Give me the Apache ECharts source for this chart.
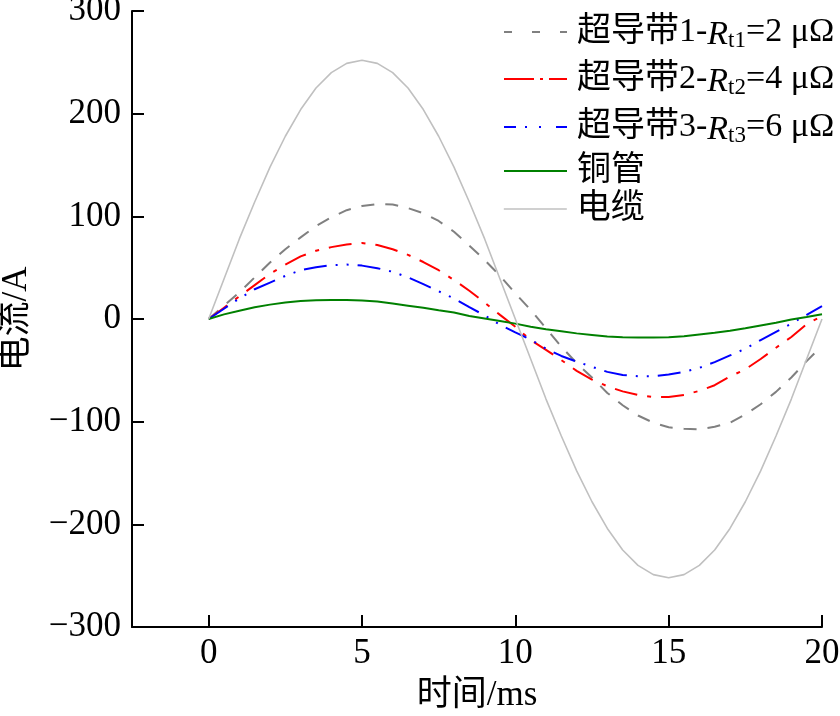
<!DOCTYPE html>
<html>
<head>
<meta charset="utf-8">
<script src="https://cdn.jsdelivr.net/npm/echarts@6/dist/echarts.min.js"></script>
<style>html,body{margin:0;padding:0;background:#fff}#c{width:840px;height:716px}</style>
</head>
<body>
<div id="c"></div>
<script>
const timeMs = [0,0.5,1,1.5,2,2.5,3,3.5,4,4.5,5,5.5,6,6.5,7,7.5,8,8.5,9,9.5,10,10.5,11,11.5,12,12.5,13,13.5,14,14.5,15,15.5,16,16.5,17,17.5,18,18.5,19,19.5,20];
const tape1 = [0,13,26,40.5,55,68,79.5,90.5,99,106,110,112,111.5,108,103,95.5,85,71.5,57.5,42,25,8.8,-9,-27,-43,-57,-72,-84,-94,-101,-105.5,-107,-107.5,-105,-101,-93,-83,-71,-57,-41,-26];
const tape2 = [0,11,22,33,44,53,61,66.5,70,72.5,74,72,68,62.5,55.5,47.5,38,27.5,16,4,-7.5,-20.5,-30,-40,-50.5,-59,-65.5,-70.5,-74,-76,-76,-74,-70,-64.5,-56,-49,-39,-28,-17.5,-5,3];
const tape3 = [0,10,20,29,35.5,42,47.5,50.5,52.5,53,52,49.5,46,40.5,34,27,20,11.5,3.5,-5.5,-13,-20,-29,-36,-41.5,-46.6,-51.5,-54.5,-55.7,-55.7,-54,-51.5,-47.6,-42,-35.5,-29,-20.5,-12.5,-4.5,4,12.5];
const copper = [0,4.5,8,11.5,14,16,17.5,18.3,18.5,18.5,18,17,15,13,11,8.5,6.3,3,0.5,-2,-4.5,-7.5,-10,-12,-14,-15.5,-17,-17.8,-18,-18,-17.8,-16.8,-15,-13.5,-11.5,-9,-6.3,-3.7,-0.5,2,4.6];
const cable = [0,39,78,114,148,178,204,225,240,249,252,249,240,225,204,178,148,114,78,39,0,-39,-78,-114,-148,-178,-204,-225,-240,-249,-252,-249,-240,-225,-204,-178,-148,-114,-78,-39,0];
const xTicks = [0,5,10,15,20];
const seriesNames = ['tape1','tape2','tape3','copper','cable'];
const legendLabels = {
  tape1: '超导带1-{i|R}{s|t1}=2 μΩ',
  tape2: '超导带2-{i|R}{s|t2}=4 μΩ',
  tape3: '超导带3-{i|R}{s|t3}=6 μΩ',
  copper: '铜管',
  cable: '电缆'
};

const FONT = '"Liberation Serif", "Noto Sans CJK SC", serif';
const pairs = arr => timeMs.map((t, i) => [t, arr[i]]);
const values = {tape1, tape2, tape3, copper, cable};
const styles = {
  tape1: {color: '#808080', width: 2, type: [13, 11], legendType: [8, 20]},
  tape2: {color: '#ff0000', width: 2, type: [23, 10, 4, 10], legendType: [30, 6, 3, 6]},
  tape3: {color: '#0000ff', width: 2, type: [23, 9, 2, 9, 2, 9], legendType: [12, 9, 2, 12, 2, 15]},
  copper: {color: '#008000', width: 2, type: 'solid', legendType: 'solid'},
  cable: {color: '#c0c0c0', width: 1.6, type: 'solid', legendType: 'solid'}
};
const legendCenters = [32, 79, 127, 171, 209];

const chart = echarts.init(document.getElementById('c'), null, {renderer: 'canvas'});
const rich = {
  i: {fontFamily: FONT, fontStyle: 'italic', fontSize: 34, color: '#000', lineHeight: 40, verticalAlign: 'bottom'},
  s: {fontFamily: FONT, fontSize: 23, color: '#000', lineHeight: 16, verticalAlign: 'bottom'}
};
const legends = seriesNames.map((n, k) => ({
  data: [{name: n,
    lineStyle: {type: styles[n].legendType, width: styles[n].width, color: styles[n].color},
    itemStyle: {opacity: 0, color: 'transparent', borderWidth: 0}}],
  left: 503,
  top: legendCenters[k] - 20,
  padding: 0,
  itemWidth: 63,
  itemHeight: 14,
  selectedMode: false,
  formatter: name => legendLabels[name],
  textStyle: {fontFamily: FONT, fontSize: 34, color: '#000', lineHeight: 40, padding: [0, 0, 0, 5], rich: rich}
}));

chart.setOption({
  animation: false,
  backgroundColor: '#fff',
  grid: {left: 132, right: 18, top: 11, bottom: 89, containLabel: false, outerBoundsMode: 'none'},
  legend: legends,
  xAxis: {
    type: 'value', min: -2.5, max: 20,
    name: '时间/ms', nameLocation: 'middle', nameGap: 51,
    nameTextStyle: {fontFamily: FONT, fontSize: 35, color: '#000'},
    axisLine: {show: true, onZero: false, lineStyle: {color: '#000', width: 2}},
    axisTick: {show: true, inside: true, length: 12, customValues: xTicks, lineStyle: {color: '#000', width: 2}},
    axisLabel: {customValues: xTicks, margin: 9, fontFamily: FONT, fontSize: 35, color: '#000'},
    splitLine: {show: false}
  },
  yAxis: {
    type: 'value', min: -300, max: 300, interval: 100,
    name: '电流/A', nameLocation: 'middle', nameGap: 98, nameRotate: 90,
    nameTextStyle: {fontFamily: FONT, fontSize: 35, color: '#000'},
    axisLine: {show: true, onZero: false, lineStyle: {color: '#000', width: 2}},
    axisTick: {show: true, inside: true, length: 12, lineStyle: {color: '#000', width: 2}},
    axisLabel: {margin: 11, fontFamily: FONT, fontSize: 35, color: '#000',
      formatter: v => String(v).replace('-', '\u2212')},
    splitLine: {show: false}
  },
  series: seriesNames.map(n => ({
    name: n, type: 'line', data: pairs(values[n]),
    symbol: 'none', showSymbol: false, smooth: false,
    lineStyle: {color: styles[n].color, width: styles[n].width, type: styles[n].type},
    itemStyle: {color: styles[n].color}
  }))
});
</script>
</body>
</html>
